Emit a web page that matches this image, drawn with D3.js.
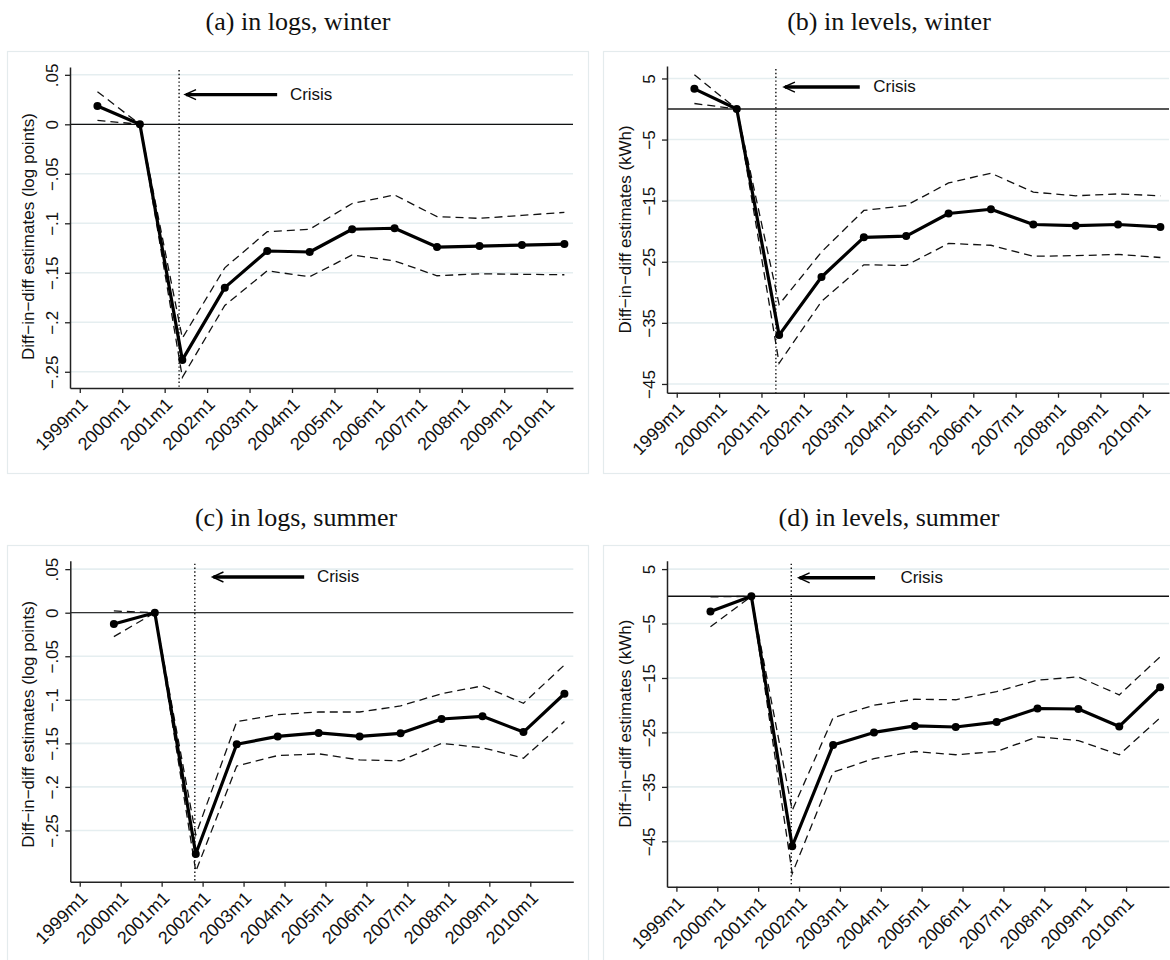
<!DOCTYPE html>
<html>
<head>
<meta charset="utf-8">
<script src="https://cdn.jsdelivr.net/npm/d3@7/dist/d3.min.js"></script>
<style>
  html, body { margin: 0; padding: 0; background: #fff; }
  svg { display: block; }
</style>
</head>
<body>
<svg id="fig" width="1170" height="960"></svg>
<script>
// ---- data -------------------------------------------------------------
// Calendar years of the event-study coefficients
const years = [1999, 2000, 2001, 2002, 2003, 2004, 2005, 2006, 2007, 2008, 2009, 2010];
const xTickLabels = ["1999m1", "2000m1", "2001m1", "2002m1", "2003m1", "2004m1",
                     "2005m1", "2006m1", "2007m1", "2008m1", "2009m1", "2010m1"];
// month of the year each season's estimate refers to
const winterMonth = 6;
const summerMonth = 11;
// rationing crisis onset (decimal year) for each season
const crisisWinter = 2001.34;
const crisisSummer = 2001.81;

// (a) logs, winter
const logsWinter   = [0.0185, 0, -0.238, -0.165, -0.128, -0.129, -0.106, -0.105, -0.124, -0.123, -0.122, -0.121];
const logsWinterHi = [0.033, 0, -0.216, -0.145, -0.1085, -0.106, -0.080, -0.0714, -0.0933, -0.095, -0.092, -0.089];
const logsWinterLo = [0.004, 0, -0.2556, -0.183, -0.148, -0.154, -0.132, -0.138, -0.153, -0.151, -0.1515, -0.152];

// (b) levels, winter (kWh)
const levelsWinter   = [3.3, 0, -37.0, -27.5, -21.0, -20.8, -17.1, -16.4, -18.9, -19.1, -18.9, -19.3];
const levelsWinterHi = [5.6, 0, -32.0, -23.4, -16.6, -15.8, -12.1, -10.5, -13.6, -14.2, -13.9, -14.2];
const levelsWinterLo = [0.9, 0, -41.6, -31.5, -25.5, -25.6, -22.0, -22.3, -24.1, -24.0, -23.8, -24.3];

// (c) logs, summer
const logsSummer   = [-0.013, 0, -0.277, -0.151, -0.142, -0.138, -0.142, -0.1385, -0.122, -0.119, -0.137, -0.093];
const logsSummerHi = [0.002, 0, -0.255, -0.125, -0.117, -0.114, -0.114, -0.107, -0.093, -0.084, -0.104, -0.060];
const logsSummerLo = [-0.0275, 0, -0.297, -0.176, -0.164, -0.162, -0.169, -0.170, -0.150, -0.155, -0.167, -0.125];

// (d) levels, summer (kWh)
const levelsSummer   = [-2.8, 0, -45.9, -27.3, -25.0, -23.8, -24.0, -23.1, -20.6, -20.7, -23.9, -16.7];
const levelsSummerHi = [-0.1, 0, -39.3, -22.3, -20.0, -18.9, -19.0, -17.5, -15.4, -14.8, -18.1, -11.1];
const levelsSummerLo = [-5.6, 0, -50.9, -32.3, -29.8, -28.5, -29.1, -28.5, -25.8, -26.5, -29.1, -22.3];

// y-axis ticks
const logTicks       = [0.05, 0, -0.05, -0.1, -0.15, -0.2, -0.25];
const logTickLabels  = [".05", "0", "\u2212.05", "\u2212.1", "\u2212.15", "\u2212.2", "\u2212.25"];
const levelTicks      = [5, -5, -15, -25, -35, -45];
const levelTickLabels = ["5", "\u22125", "\u221215", "\u221225", "\u221235", "\u221245"];

const titles = ["(a) in logs, winter", "(b) in levels, winter",
                "(c) in logs, summer", "(d) in levels, summer"];
const yTitles = ["Diff\u2212in\u2212diff estimates (log points)",
                 "Diff\u2212in\u2212diff estimates (kWh)"];
const crisisLabel = "Crisis";

// ---- layout -----------------------------------------------------------
const panels = [
  { title: titles[0], cx: 298, ty: 30,
    frame: { x: 7, y: 51, w: 581, h: 422 },
    plot: { l: 70, t: 67, r: 573, b: 388 },
    xDomain: [1998.77, 2010.62], yDomain: [-0.2664, 0.0579],
    month: winterMonth, crisis: crisisWinter,
    est: logsWinter, hi: logsWinterHi, lo: logsWinterLo,
    ticks: logTicks, tickLabels: logTickLabels, yTitle: yTitles[0], yTitleShift: 9,
    arrow: { y: 0.03, x1: 2001.48, x2: 2003.65, tx: 2003.95 },
    zero: { color: "#111", width: 1.2 } },
  { title: titles[1], cx: 889, ty: 30,
    frame: { x: 603, y: 51, w: 581, h: 422 },
    plot: { l: 667, t: 66, r: 1169, b: 392.7 },
    xDomain: [1998.77, 2010.62], yDomain: [-46.43, 7.04],
    month: winterMonth, crisis: crisisWinter,
    est: levelsWinter, hi: levelsWinterHi, lo: levelsWinterLo,
    ticks: levelTicks, tickLabels: levelTickLabels, yTitle: yTitles[1], yTitleShift: 0,
    arrow: { y: 3.6, x1: 2001.53, x2: 2003.32, tx: 2003.64 },
    zero: { color: "#555", width: 2 } },
  { title: titles[2], cx: 296, ty: 526,
    frame: { x: 7, y: 545, w: 581, h: 422 },
    plot: { l: 70.3, t: 560.7, r: 573.3, b: 881.7 },
    xDomain: [1998.77, 2011.05], yDomain: [-0.3088, 0.0597],
    month: summerMonth, crisis: crisisSummer,
    est: logsSummer, hi: logsSummerHi, lo: logsSummerLo,
    ticks: logTicks, tickLabels: logTickLabels, yTitle: yTitles[0], yTitleShift: 3,
    arrow: { y: 0.041, x1: 2002.24, x2: 2004.48, tx: 2004.79 },
    zero: { color: "#333", width: 1.2 } },
  { title: titles[3], cx: 889, ty: 526,
    frame: { x: 603, y: 545, w: 581, h: 422 },
    plot: { l: 667, t: 560.7, r: 1169, b: 886.7 },
    xDomain: [1998.77, 2011.05], yDomain: [-53.33, 6.54],
    month: summerMonth, crisis: crisisSummer,
    est: levelsSummer, hi: levelsSummerHi, lo: levelsSummerLo,
    ticks: levelTicks, tickLabels: levelTickLabels, yTitle: yTitles[1], yTitleShift: 0,
    arrow: { y: 3.4, x1: 2001.99, x2: 2003.86, tx: 2004.48 },
    zero: { color: "#111", width: 1.4 } }
];

const SANS = "'Liberation Sans', Arial, Helvetica, sans-serif";
const SERIF = "'Liberation Serif', 'Times New Roman', serif";
const svg = d3.select("#fig");

function drawPanel(p) {
  const g = svg.append("g");
  const P = p.plot;

  // outer frame
  g.append("rect")
    .attr("x", p.frame.x + 0.5).attr("y", p.frame.y + 0.5)
    .attr("width", p.frame.w).attr("height", p.frame.h)
    .attr("fill", "#fff").attr("stroke", "#e4ebed").attr("stroke-width", 1.2);

  // panel title
  svg.append("text")
    .attr("x", p.cx).attr("y", p.ty)
    .attr("text-anchor", "middle")
    .attr("font-family", SERIF).attr("font-size", 26)
    .attr("fill", "#111")
    .text(p.title);

  const x = d3.scaleLinear().domain(p.xDomain).range([P.l, P.r]);
  const y = d3.scaleLinear().domain(p.yDomain).range([P.b, P.t]);
  const xOf = (i) => x(years[i] + (p.month - 1) / 12);

  // horizontal grid lines
  g.append("g").selectAll("line")
    .data(p.ticks).join("line")
    .attr("x1", P.l).attr("x2", P.r)
    .attr("y1", d => y(d)).attr("y2", d => y(d))
    .attr("stroke", "#e5eef0").attr("stroke-width", 1.6);

  // reference line at zero
  g.append("line")
    .attr("x1", P.l).attr("x2", P.r)
    .attr("y1", y(0)).attr("y2", y(0))
    .attr("stroke", p.zero.color).attr("stroke-width", p.zero.width);

  // crisis onset (dotted vertical)
  g.append("line")
    .attr("x1", x(p.crisis)).attr("x2", x(p.crisis))
    .attr("y1", P.t + 3).attr("y2", P.b)
    .attr("stroke", "#111").attr("stroke-width", 1.4)
    .attr("stroke-dasharray", "1.4,2.4");

  const line = d3.line().x((d, i) => xOf(i)).y(d => y(d));

  // 95% confidence bounds
  [p.hi, p.lo].forEach(series => {
    g.append("path")
      .attr("d", line(series))
      .attr("fill", "none").attr("stroke", "#111")
      .attr("stroke-width", 1.3).attr("stroke-dasharray", "8,5");
  });

  // point estimates
  g.append("path")
    .attr("d", line(p.est))
    .attr("fill", "none").attr("stroke", "#000")
    .attr("stroke-width", 3.2).attr("stroke-linejoin", "round");
  g.append("g").selectAll("circle")
    .data(p.est).join("circle")
    .attr("cx", (d, i) => xOf(i)).attr("cy", d => y(d))
    .attr("r", 4).attr("fill", "#000");

  // y axis
  const yAxis = g.append("g")
    .attr("transform", `translate(${P.l},0)`)
    .call(d3.axisLeft(y).tickValues(p.ticks)
      .tickFormat((d, i) => p.tickLabels[i])
      .tickSize(5).tickSizeOuter(0));
  yAxis.select(".domain").attr("stroke", "#222").attr("stroke-width", 1.5);
  yAxis.selectAll(".tick line").attr("stroke", "#222").attr("stroke-width", 1.3);
  yAxis.selectAll(".tick text")
    .attr("x", null).attr("dy", null)
    .attr("text-anchor", "middle")
    .attr("transform", "translate(-12,0) rotate(-90)")
    .attr("font-family", SANS).attr("font-size", 17).attr("fill", "#111");

  // x axis
  const xAxis = g.append("g")
    .attr("transform", `translate(0,${P.b})`)
    .call(d3.axisBottom(x).tickValues(years)
      .tickFormat((d, i) => xTickLabels[i])
      .tickSize(5).tickSizeOuter(0));
  xAxis.select(".domain").attr("stroke", "#222").attr("stroke-width", 1.5);
  xAxis.selectAll(".tick line").attr("stroke", "#222").attr("stroke-width", 1.3);
  xAxis.selectAll(".tick text")
    .attr("y", null).attr("dy", "0.35em")
    .attr("text-anchor", "end")
    .attr("transform", "translate(4,13) rotate(-45)")
    .attr("font-family", SANS).attr("font-size", 18).attr("fill", "#111");

  // y axis title
  g.append("text")
    .attr("transform", `translate(${P.l - 42},${(P.t + P.b) / 2 + p.yTitleShift}) rotate(-90)`)
    .attr("text-anchor", "middle")
    .attr("dy", "0.35em")
    .attr("font-family", SANS).attr("font-size", 17).attr("fill", "#111")
    .text(p.yTitle);

  // crisis arrow and label
  const ay = y(p.arrow.y), ax1 = x(p.arrow.x1), ax2 = x(p.arrow.x2);
  g.append("line")
    .attr("x1", ax1 + 1).attr("x2", ax2)
    .attr("y1", ay).attr("y2", ay)
    .attr("stroke", "#000").attr("stroke-width", 3.4);
  g.append("path")
    .attr("d", `M${ax1 + 11},${ay - 5}L${ax1},${ay}L${ax1 + 11},${ay + 5}`)
    .attr("fill", "none").attr("stroke", "#000").attr("stroke-width", 1.4);
  g.append("text")
    .attr("x", x(p.arrow.tx)).attr("y", ay - 1)
    .attr("dy", "0.35em")
    .attr("font-family", SANS).attr("font-size", 17).attr("fill", "#111")
    .text(crisisLabel);
}

panels.forEach(drawPanel);
</script>
</body>
</html>
